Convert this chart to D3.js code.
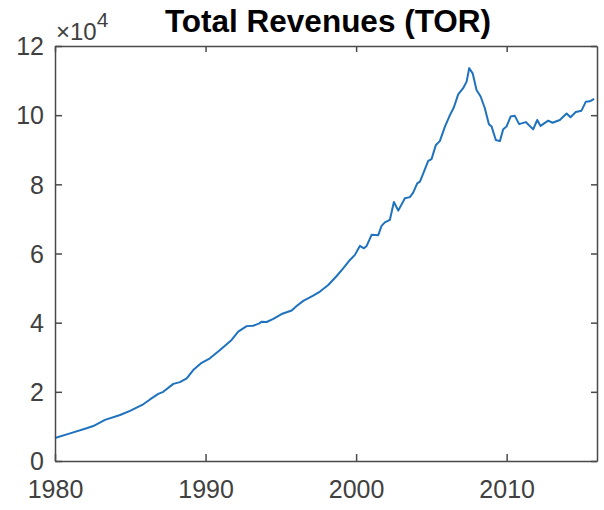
<!DOCTYPE html>
<html>
<head>
<meta charset="utf-8">
<script src="https://cdn.jsdelivr.net/npm/d3@7"></script>
<style>
  body { margin: 0; background: #fff; }
  svg { display: block; font-family: "Liberation Sans", Arial, sans-serif; }
</style>
</head>
<body>
<div id="chart"></div>
<script>
// values (time in years, revenues in raw units)
const years = [1980.00, 1981.00, 1982.10, 1982.54, 1983.32, 1984.32, 1984.98, 1985.86, 1986.31, 1986.86,
    1987.19, 1987.86, 1988.30, 1988.75, 1989.18, 1989.74, 1990.29, 1990.96, 1991.73, 1992.17,
    1992.73, 1993.17, 1993.57, 1993.73, 1994.06, 1994.50, 1995.05, 1995.72, 1996.05, 1996.49,
    1997.15, 1997.60, 1998.15, 1998.71, 1999.14, 1999.54, 1999.92, 2000.25, 2000.52, 2000.70,
    2001.03, 2001.47, 2001.69, 2001.91, 2002.24, 2002.51, 2002.80, 2003.24, 2003.57, 2003.79,
    2004.06, 2004.24, 2004.46, 2004.79, 2005.01, 2005.30, 2005.56, 2005.90, 2006.23, 2006.49,
    2006.78, 2007.11, 2007.34, 2007.51, 2007.74, 2008.00, 2008.27, 2008.55, 2008.82, 2009.00,
    2009.28, 2009.55, 2009.77, 2009.99, 2010.26, 2010.54, 2010.83, 2011.27, 2011.76, 2012.03,
    2012.25, 2012.76, 2013.05, 2013.53, 2013.98, 2014.24, 2014.59, 2014.97, 2015.26, 2015.52,
    2015.81];
const revenues = [6650, 8000, 9450, 10100, 11900, 13300, 14500, 16400, 17800, 19400,
    20000, 22300, 22800, 23900, 26300, 28400, 29700, 32100, 35000, 37400,
    39000, 39100, 39800, 40300, 40200, 41100, 42500, 43500, 44800, 46300,
    47800, 49000, 50900, 53500, 55700, 57900, 59600, 62200, 61500, 62200,
    65400, 65300, 68000, 69000, 69700, 74900, 72400, 76000, 76300, 77600,
    80300, 80800, 83200, 86800, 87300, 91400, 92500, 96700, 100000, 102200,
    106000, 107800, 109700, 113600, 112100, 107300, 105400, 102000, 97400, 96700,
    92800, 92500, 95900, 96700, 99600, 99800, 97400, 98000, 95900, 98600,
    96900, 98400, 97800, 98600, 100500, 99400, 100900, 101300, 103900, 104000,
    104700];
const xTicks = [1980, 1990, 2000, 2010];
const yTicks = [0, 20000, 40000, 60000, 80000, 100000, 120000];

const width = 604, height = 510;
const margin = { top: 46, right: 7, bottom: 49, left: 55 };
const axisColor = '#4a4a4a';
const textColor = '#404040';

const svg = d3.select('#chart').append('svg')
    .attr('width', width).attr('height', height);

const x = d3.scaleLinear().domain([1980, 2016]).range([margin.left, width - margin.right]);
const y = d3.scaleLinear().domain([0, 120000]).range([height - margin.bottom, margin.top]);

// line
const data = years.map((t, i) => ({ t: t, v: revenues[i] }));
svg.append('path')
    .datum(data)
    .attr('fill', 'none')
    .attr('stroke', '#1f72bd')
    .attr('stroke-width', 2)
    .attr('stroke-linejoin', 'round')
    .attr('d', d3.line().x(d => x(d.t)).y(d => y(d.v)));

function styleAxis(g) {
    g.select('.domain').attr('stroke', axisColor).attr('stroke-width', 1.5);
    g.selectAll('.tick line').attr('stroke', axisColor).attr('stroke-width', 1.5);
    g.selectAll('.tick text').attr('fill', textColor).style('font-size', '25px');
}

// bottom and left axes with labels, ticks pointing in
svg.append('g')
    .attr('transform', `translate(0,${height - margin.bottom})`)
    .call(d3.axisBottom(x).tickValues(xTicks).tickFormat(d3.format('d'))
        .tickSizeInner(-7).tickSizeOuter(0).tickPadding(18))
    .call(styleAxis)
    .call(g => g.selectAll('.tick text').attr('dy', '0.75em'));

svg.append('g')
    .attr('transform', `translate(${margin.left},0)`)
    .call(d3.axisLeft(y).tickValues(yTicks).tickFormat(d => d / 10000)
        .tickSizeInner(-7).tickSizeOuter(0).tickPadding(11))
    .call(styleAxis)
    .call(g => g.selectAll('.tick text').attr('dy', '0.35em'));

// top and right axes, ticks only
svg.append('g')
    .attr('transform', `translate(0,${margin.top})`)
    .call(d3.axisTop(x).tickValues(xTicks).tickFormat('')
        .tickSizeInner(-6).tickSizeOuter(0))
    .call(styleAxis);

svg.append('g')
    .attr('transform', `translate(${width - margin.right},0)`)
    .call(d3.axisRight(y).tickValues(yTicks).tickFormat('')
        .tickSizeInner(-6).tickSizeOuter(0))
    .call(styleAxis);

// exponent label
const expo = svg.append('text')
    .attr('x', margin.left + 1)
    .attr('y', margin.top - 6)
    .attr('fill', textColor)
    .style('font-size', '24px');
expo.append('tspan').text('\u00d710');
expo.append('tspan').attr('dy', -13).style('font-size', '21px').text('4');

// title
svg.append('text')
    .attr('x', 328)
    .attr('y', 32)
    .attr('text-anchor', 'middle')
    .attr('fill', '#000')
    .style('font-size', '31.5px')
    .style('font-weight', 'bold')
    .text('Total Revenues (TOR)');
</script>
</body>
</html>
